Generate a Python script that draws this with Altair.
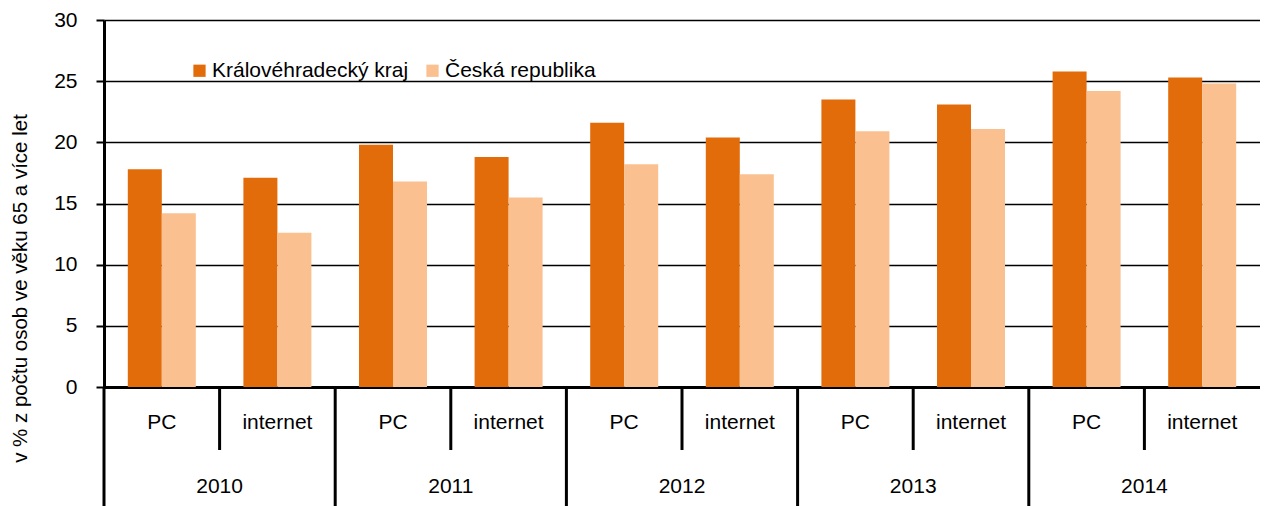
import altair as alt
import pandas as pd

years = ["2010", "2011", "2012", "2013", "2014"]
kinds = ["PC", "internet"]
series_names = ["Královéhradecký kraj", "Česká republika"]
kh_values = [17.8, 17.1, 19.8, 18.8, 21.6, 20.4, 23.5, 23.1, 25.8, 25.3]
cr_values = [14.2, 12.6, 16.8, 15.5, 18.2, 17.4, 20.9, 21.1, 24.2, 24.8]
colors = ["#E36C0A", "#FAC090"]

keys = [f"{y} {k}" for y in years for k in kinds]
cat_year = [y for y in years for k in kinds]
cat_kind = [k for y in years for k in kinds]

rows = []
for i, key in enumerate(keys):
    rows.append({"key": key, "series": series_names[0], "value": kh_values[i]})
    rows.append({"key": key, "series": series_names[1], "value": cr_values[i]})
bars_df = pd.DataFrame(rows)
cats_df = pd.DataFrame({"key": keys, "year": cat_year, "kind": cat_kind})

FONT = "Liberation Sans"
FS = 21
W, H = 1156, 367

xscale = alt.Scale(paddingInner=0, paddingOuter=0)

bars = alt.Chart(bars_df).mark_bar().encode(
    x=alt.X("key:N", sort=keys, scale=xscale,
            axis=alt.Axis(labels=False, ticks=False, title=None, grid=False,
                          domainColor="black", domainWidth=3)),
    xOffset=alt.XOffset("series:N", sort=series_names,
                        scale=alt.Scale(paddingOuter=0.7, paddingInner=0)),
    y=alt.Y("value:Q", scale=alt.Scale(domain=[0, 30]),
            axis=alt.Axis(values=[0, 5, 10, 15, 20, 25, 30], title="v % z počtu osob ve věku 65 a více let",
                          titleFont=FONT, titleFontSize=20.5, titleFontWeight="normal", titleColor="black",
                          titleX=-84, titleY=268, titleAngle=270, titleAlign="center", titleBaseline="middle",
                          labelFont=FONT, labelFontSize=FS, labelColor="black", labelPadding=19,
                          tickSize=8, tickWidth=2, tickColor="black",
                          domainColor="black", domainWidth=3,
                          grid=True, gridColor="black", gridWidth=1.5)),
    color=alt.Color("series:N", sort=series_names,
                    scale=alt.Scale(domain=series_names, range=colors),
                    legend=alt.Legend(title=None, orient="none", legendX=85, legendY=40,
                                      direction="horizontal", symbolType="square",
                                      symbolSize=150, symbolStrokeWidth=0,
                                      labelFont=FONT, labelFontSize=FS, labelColor="black",
                                      labelLimit=0, labelOffset=2, columnPadding=13)),
)

kind_text = alt.Chart(cats_df).mark_text(font=FONT, fontSize=FS, color="black", baseline="middle").encode(
    x=alt.X("key:N", sort=keys),
    y=alt.value(H + 36),
    text="kind:N",
)

year_df = cats_df[cats_df["kind"] == "internet"]
year_text = alt.Chart(year_df).mark_text(font=FONT, fontSize=FS, color="black", baseline="middle").encode(
    x=alt.X("key:N", sort=keys, bandPosition=0),
    y=alt.value(H + 100),
    text="year:N",
)

long_df = cats_df[cats_df["kind"] == "PC"]
long_rules = alt.Chart(long_df).mark_rule(color="black", strokeWidth=3).encode(
    x=alt.X("key:N", sort=keys, bandPosition=0),
    y=alt.value(H),
    y2=alt.value(H + 130),
)
short_rules = alt.Chart(year_df).mark_rule(color="black", strokeWidth=3).encode(
    x=alt.X("key:N", sort=keys, bandPosition=0),
    y=alt.value(H),
    y2=alt.value(H + 63),
)

chart = alt.layer(bars, kind_text, year_text, long_rules, short_rules).properties(
    width=W, height=H,
    autosize=alt.AutoSizeParams(type="none"),
    padding={"left": 96, "top": 12, "right": 0, "bottom": 119},
).configure_view(stroke=None).configure(background="white")

chart.save("out.html", embed_options={"renderer": "svg", "actions": False})
